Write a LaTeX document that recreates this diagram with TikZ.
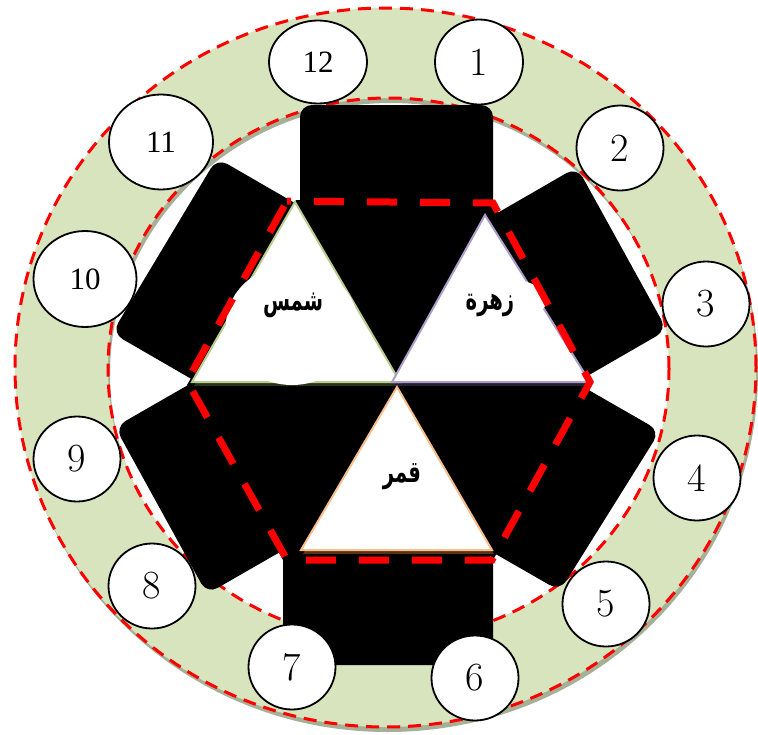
\documentclass[tikz,border=0pt]{standalone}
\usepackage{fontspec}
\usetikzlibrary{shapes.geometric}
\TeXXeTstate=1
\newfontfamily\arabicfont[Script=Arabic]{DejaVu Sans}
\newfontfamily\timesfont{Liberation Serif}
\definecolor{ringgreen}{RGB}{215,228,189}
\definecolor{ringshadow}{RGB}{166,176,150}
\definecolor{trigreen}{RGB}{185,205,145}
\definecolor{tripurple}{RGB}{172,158,200}
\definecolor{triorange}{RGB}{248,190,140}
\definecolor{shgreen}{RGB}{40,50,25}
\definecolor{shpurple}{RGB}{38,30,50}
\definecolor{shorange}{RGB}{90,50,20}
\begin{document}
\begin{tikzpicture}[x=1pt,y=-1pt,
  numc/.style={draw=black, line width=1.8pt, fill=white, ellipse, minimum width=87pt, minimum height=85pt, inner sep=0pt, font=\fontsize{40}{44}\selectfont},
  numt/.style={numc, font=\timesfont\fontsize{31}{36}\selectfont},
  thindash/.style={draw=red, line width=3pt, dash pattern=on 13pt off 8pt},
  blk/.style={fill=black, rounded corners=12pt},
  tri/.style={fill=white, line width=2pt, line join=miter},
  lbl/.style={font=\arabicfont\bfseries\fontsize{23}{26}\selectfont, inner sep=0pt, xscale=0.85, yscale=1.3, transform shape}
]
\useasboundingbox (0,0) rectangle (758,734);
% ring with shadow
\fill[ringshadow, even odd rule] (387.5,372.5) ellipse [x radius=370.5pt, y radius=359.5pt]
  (390.5,374) ellipse [x radius=280.5pt, y radius=271pt];
\fill[ringgreen, even odd rule] (385.5,367.5) ellipse [x radius=370.5pt, y radius=359.5pt]
  (388.5,369) ellipse [x radius=280.5pt, y radius=271pt];
\draw[thindash] (385.5,367.5) ellipse [x radius=370.5pt, y radius=359.5pt];
\draw[thindash] (388.5,369) ellipse [x radius=280.5pt, y radius=271pt];
% black hexagon and rectangles
\fill[black] (296,200) -- (493,202) -- (590,385) -- (493,560) -- (283,560) -- (187,385) -- cycle;
\fill[blk] (300,382) -- (300,105) -- (493,105) -- (493,382) -- cycle;
\fill[blk] (283,382) -- (283,665) -- (493,665) -- (493,382) -- cycle;
\fill[blk] (345,301) -- (577,167) -- (667,330) -- (435,464) -- cycle;
\fill[blk] (445,290) -- (217,158) -- (112,333) -- (340,465) -- cycle;
\fill[blk] (343,296) -- (115,427) -- (207,594) -- (435,463) -- cycle;
\fill[blk] (439,304) -- (660,431) -- (560,591) -- (339,464) -- cycle;
% triangle shadows
\fill[shgreen, shift={(2,4)}] (295,202) -- (192,382) -- (400,382) -- cycle;
\fill[shpurple, shift={(2,4)}] (485,215) -- (392,382) -- (590,382) -- cycle;
\fill[shorange, shift={(2,4)}] (397,387) -- (301,550) -- (492,550) -- cycle;
% triangles
\draw[tri, draw=trigreen] (295,202) -- (192,382) -- (400,382) -- cycle;
\draw[tri, draw=tripurple] (485,215) -- (392,382) -- (590,382) -- cycle;
\draw[tri, draw=triorange] (397,387) -- (301,550) -- (492,550) -- cycle;
% white blobs behind labels
\fill[white] (292,325) ellipse [x radius=66pt, y radius=60pt];
\fill[white] (500,300) ellipse [x radius=47pt, y radius=22pt];
% labels
\node[lbl] (shams) at (293,305) {\beginR شمس\endR};
\node[lbl] (zuhra) at (490,305) {\beginR زهرة\endR};
\node[lbl] (qamar) at (402,477) {\beginR قمر\endR};
% red dashed hexagon
\draw[red, line width=7pt, dash pattern=on 30pt off 23pt, dash phase=26pt] (287,201) -- (493,203) -- (590,382) -- (492,560) -- (287,560) -- (187,381) -- cycle;
% numbered circles
\node[numt, minimum width=98pt, minimum height=83pt] (n12) at (318,62) {12};
\node[numc, minimum width=88pt] (n1) at (479,62) {1};
\node[numc] (n2) at (620,148) {2};
\node[numc] (n3) at (706,304) {3};
\node[numc] (n4) at (697,478) {4};
\node[numc] (n5) at (606,604) {5};
\node[numc] (n6) at (475,678) {6};
\node[numc] (n7) at (292,667) {7};
\node[numc] (n8) at (152,586) {8};
\node[numc] (n9) at (77,459) {9};
\node[numt, minimum width=103pt, minimum height=96pt] (n10) at (85,279) {10};
\node[numt, minimum width=104pt, minimum height=95pt] (n11) at (161,142) {11};
\end{tikzpicture}
\end{document}
